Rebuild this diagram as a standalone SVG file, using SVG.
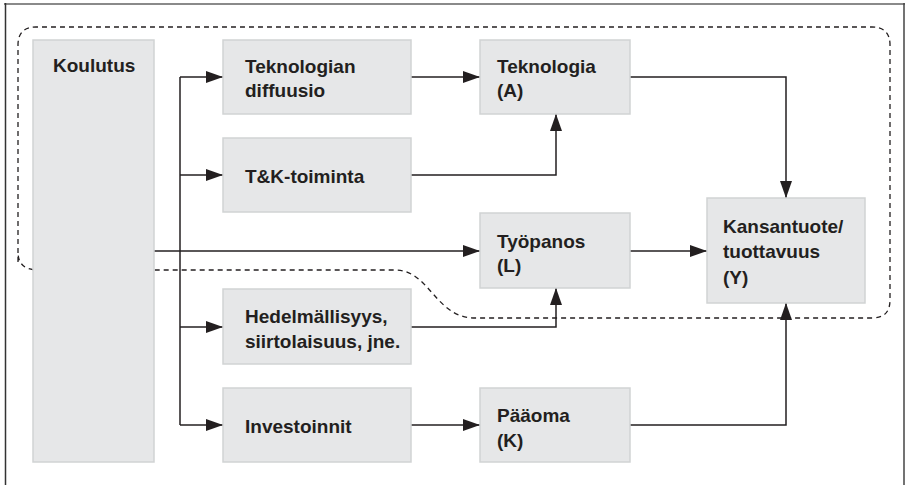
<svg xmlns="http://www.w3.org/2000/svg" width="909" height="485" viewBox="0 0 909 485">
<defs>
<marker id="ah" markerUnits="userSpaceOnUse" markerWidth="19" markerHeight="13" refX="17" refY="6" orient="auto">
<path d="M0,0 L17,6 L0,12 z" fill="#231f20"/>
</marker>
<style>
.box{fill:#e6e7e8;stroke:#d1d3d4;stroke-width:1.5}
.t{font-family:"Liberation Sans",Arial,sans-serif;font-weight:bold;font-size:19px;fill:#231f20}
.c{fill:none;stroke:#231f20;stroke-width:1.5}
.ca{fill:none;stroke:#231f20;stroke-width:1.5;marker-end:url(#ah)}
.dash{fill:none;stroke:#231f20;stroke-width:1.3;stroke-dasharray:5,4}
</style>
</defs>
<rect width="909" height="485" fill="#ffffff"/>
<g id="frame">
<line x1="4" y1="4" x2="905" y2="4" stroke="#8a8a8a" stroke-width="2"/>
<line x1="5.5" y1="3" x2="5.5" y2="485" stroke="#333" stroke-width="1.5"/>
<line x1="904" y1="3" x2="904" y2="485" stroke="#444" stroke-width="1.5"/>
</g>
<g id="boundary">
<path class="dash" d="M 18 262 L 18 45 Q 18 27 36 27 L 872 27 Q 890 27 890 45 L 890 300 Q 890 318 872 318 L 475 318 C 435 318, 430 270, 395 270 L 38 270 Q 18 270 18 252"/>
</g>
<g id="connectors">
<path class="c" d="M180 77 L180 425"/>
<path class="ca" d="M180 77 L223 77"/>
<path class="ca" d="M180 175 L223 175"/>
<path class="ca" d="M180 327 L223 327"/>
<path class="ca" d="M180 425 L223 425"/>
<path class="ca" d="M154 251 L480 251"/>
<path class="ca" d="M411 77 L480 77"/>
<path class="ca" d="M411 175 L556 175 L556 114"/>
<path class="ca" d="M630 77 L786 77 L786 198"/>
<path class="ca" d="M630 251 L707 251"/>
<path class="ca" d="M411 327 L556 327 L556 288"/>
<path class="ca" d="M630 425 L786 425 L786 303"/>
<path class="ca" d="M411 425 L480 425"/>
</g>
<g id="koulutus">
<rect class="box" x="33" y="40" width="121" height="422"/>
<text class="t" x="53" y="72">Koulutus</text>
</g>
<g id="diffuusio">
<rect class="box" x="223" y="40" width="188" height="74"/>
<text class="t" x="245" y="73">Teknologian</text>
<text class="t" x="245" y="97">diffuusio</text>
</g>
<g id="tk">
<rect class="box" x="223" y="138" width="188" height="74"/>
<text class="t" x="245" y="183">T&amp;K-toiminta</text>
</g>
<g id="hedelmallisyys">
<rect class="box" x="223" y="289" width="188" height="75"/>
<text class="t" x="245" y="323">Hedelmällisyys,</text>
<text class="t" x="245" y="348">siirtolaisuus, jne.</text>
</g>
<g id="investoinnit">
<rect class="box" x="223" y="388" width="188" height="74"/>
<text class="t" x="245" y="433">Investoinnit</text>
</g>
<g id="teknologia">
<rect class="box" x="480" y="40" width="150" height="74"/>
<text class="t" x="497" y="73">Teknologia</text>
<text class="t" x="497" y="97">(A)</text>
</g>
<g id="tyopanos">
<rect class="box" x="480" y="213" width="150" height="75"/>
<text class="t" x="497" y="248">Työpanos</text>
<text class="t" x="497" y="272">(L)</text>
</g>
<g id="paaoma">
<rect class="box" x="480" y="388" width="150" height="74"/>
<text class="t" x="497" y="422">Pääoma</text>
<text class="t" x="497" y="447">(K)</text>
</g>
<g id="kansantuote">
<rect class="box" x="707" y="198" width="158" height="105"/>
<text class="t" x="723" y="233">Kansantuote/</text>
<text class="t" x="723" y="258">tuottavuus</text>
<text class="t" x="723" y="284">(Y)</text>
</g>
</svg>
